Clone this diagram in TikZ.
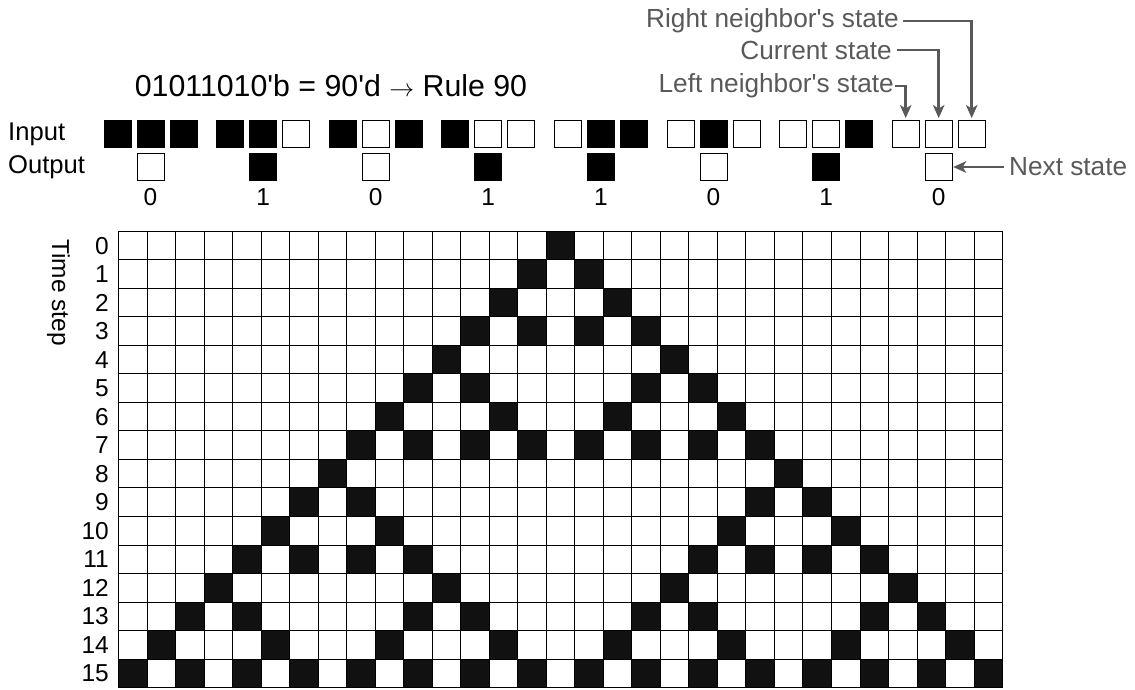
\documentclass[tikz,border=0pt]{standalone}
\usepackage{fontspec}
\setmainfont{Liberation Sans}
\usetikzlibrary{arrows.meta}
\definecolor{anno}{HTML}{595959}
\definecolor{cellblack}{HTML}{111111}
\begin{document}
\begin{tikzpicture}[x=1pt,y=-1pt,
  lbl/.style={font=\fontsize{24.5}{29}\selectfont, inner sep=0pt},
  rowname/.style={font=\fontsize{25.6}{30}\selectfont, inner sep=0pt},
  annot/.style={font=\fontsize{26.2}{31}\selectfont, inner sep=0pt, text=anno},
  titlefont/.style={font=\fontsize{30.3}{36}\selectfont, inner sep=0pt},
  pointer/.style={draw=anno, line width=2.5pt, -{Stealth[length=13pt,width=11.5pt,inset=3.5pt]}},
  cellbase/.style={minimum size=27pt, inner sep=0pt, line width=0.9pt, draw=black},
  cell1/.style={cellbase, fill=black},
  cell0/.style={cellbase, fill=white},
  gridline/.style={draw=black, line width=1pt}]
\useasboundingbox (0,0) rectangle (1135,689);

% title
\node[titlefont] (title) at (331,86) {01011010\textquotesingle b = 90\textquotesingle d $\rightarrow$ Rule 90};

% row labels
\node[rowname, anchor=west] (inlbl) at (8,134) {Input};
\node[rowname, anchor=west] (outlbl) at (8,167) {Output};

% rule table
\foreach \g/\a/\b/\c/\o in {0/1/1/1/0, 1/1/1/0/1, 2/1/0/1/0, 3/1/0/0/1, 4/0/1/1/1, 5/0/1/0/0, 6/0/0/1/1, 7/0/0/0/0}{
  \pgfmathsetmacro\gx{104+112.6*\g}
  \node[cell\a] (g\g-0) at (\gx+13.5,134) {};
  \node[cell\b] (g\g-1) at (\gx+46.5,134) {};
  \node[cell\c] (g\g-2) at (\gx+79.5,134) {};
  \node[cell\o] (o\g) at (\gx+46.5,167) {};
  \node[lbl] (bit\g) at (\gx+46.5,197.5) {\o};
}

% annotations
\node[annot, anchor=east] (rn) at (899,21) {Right neighbor\textquotesingle s state};
\node[annot, anchor=east] (cs) at (892,50) {Current state};
\node[annot, anchor=east] (lnb) at (894,86) {Left neighbor\textquotesingle s state};
\node[annot, anchor=west] (ns) at (1009,167) {Next state};
\draw[pointer, shorten <=4pt, shorten >=2pt] (rn.east) -| (g7-2.north);
\draw[pointer, shorten <=5pt, shorten >=2pt] (cs.east) -| (g7-1.north);
\draw[pointer, shorten <=1pt, shorten >=2pt] (lnb.east) -| (g7-0.north);
\draw[pointer, shorten <=5pt, shorten >=0.5pt] (ns.west) -- (o7.east);

% time step label
\node[lbl, rotate=-90] (ts) at (58.5,292.5) {Time step};

% grid of the automaton
\def\gxo{118.5}
\def\gyo{231.3}
\def\cs{28.52}
\foreach \t/\L in {0/{0},1/{-1,1},2/{-2,2},3/{-3,-1,1,3},4/{-4,4},5/{-5,-3,3,5},6/{-6,-2,2,6},
  7/{-7,-5,-3,-1,1,3,5,7},8/{-8,8},9/{-9,-7,7,9},10/{-10,-6,6,10},11/{-11,-9,-7,-5,5,7,9,11},
  12/{-12,-4,4,12},13/{-13,-11,-5,-3,3,5,11,13},14/{-14,-10,-6,-2,2,6,10,14},
  15/{-15,-13,-11,-9,-7,-5,-3,-1,1,3,5,7,9,11,13,15}}{
  \node[lbl, anchor=east] (r\t) at (109,{\gyo+\cs*(\t+0.5)}) {\t};
  \foreach \d in \L {
    \fill[cellblack] ({\gxo+\cs*(\d+15)},{\gyo+\cs*\t}) rectangle ++(\cs,\cs);
  }
}
\foreach \i in {0,...,31}{
  \draw[gridline] ({\gxo+\cs*\i},\gyo) -- ++(0,{16*\cs});
}
\foreach \j in {0,...,16}{
  \draw[gridline] (\gxo,{\gyo+\cs*\j}) -- ++({31*\cs},0);
}
\end{tikzpicture}
\end{document}
